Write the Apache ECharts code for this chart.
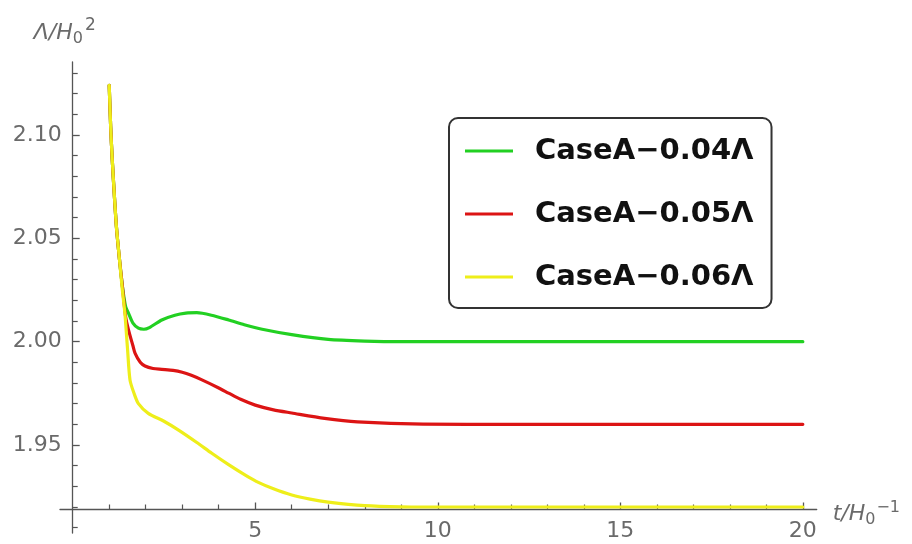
<!DOCTYPE html>
<html><head><meta charset="utf-8">
<script src="https://cdn.jsdelivr.net/npm/echarts@6/dist/echarts.min.js"></script>
<style>html,body{margin:0;padding:0;background:#fff}#c{width:912px;height:544px}</style>
</head><body><div id="c"></div>
<script>
// ---- data ----
const seriesNames = ['CaseA\u22120.04\u039B', 'CaseA\u22120.05\u039B', 'CaseA\u22120.06\u039B'];
const seriesColors = ['#22d022', '#dc1414', '#eeee1a'];

const tGreen = [1.00, 1.04, 1.08, 1.14, 1.20, 1.28, 1.36, 1.45, 1.53, 1.65, 1.80, 1.95, 2.10, 2.44, 2.80, 3.10, 3.40, 3.80, 4.27, 4.70, 5.19, 6.00, 7.00, 8.00, 9.00, 10, 12, 14, 16, 18, 20];
const vGreen = [2.124, 2.104, 2.089, 2.071, 2.055, 2.040, 2.027, 2.017, 2.0137, 2.009, 2.0065, 2.006, 2.0068, 2.0105, 2.0128, 2.0138, 2.0140, 2.0128, 2.0105, 2.0082, 2.0060, 2.0034, 2.0011, 2.0003, 2.0000, 2.0000, 2.0000, 2.0000, 2.0000, 2.0000, 2.0000];

const tRed = [1.00, 1.04, 1.08, 1.14, 1.20, 1.28, 1.36, 1.45, 1.53, 1.65, 1.71, 1.85, 1.98, 2.20, 2.44, 2.75, 3.00, 3.25, 3.54, 4.00, 4.27, 4.60, 5.00, 5.50, 6.00, 6.90, 7.80, 9.60, 12, 14, 16, 18, 20];
const vRed = [2.124, 2.104, 2.089, 2.071, 2.055, 2.040, 2.027, 2.012, 2.0056, 1.998, 1.9943, 1.990, 1.9882, 1.9870, 1.9866, 1.9861, 1.9852, 1.9837, 1.9815, 1.9776, 1.9751, 1.9721, 1.9693, 1.9670, 1.9655, 1.9629, 1.9612, 1.9601, 1.9600, 1.9600, 1.9600, 1.9600, 1.9600];

const tYellow = [1.00, 1.04, 1.08, 1.14, 1.20, 1.28, 1.36, 1.43, 1.50, 1.57, 1.68, 1.80, 2.07, 2.50, 2.90, 3.40, 3.81, 4.27, 4.75, 5.10, 5.50, 6.00, 6.50, 7.00, 8.00, 9.00, 10, 12, 14, 16, 18, 20];
const vYellow = [2.124, 2.104, 2.089, 2.071, 2.055, 2.040, 2.025, 2.0137, 1.997, 1.9814, 1.975, 1.970, 1.9653, 1.9615, 1.9572, 1.9512, 1.9460, 1.9405, 1.9352, 1.9318, 1.9288, 1.9258, 1.9238, 1.9224, 1.9207, 1.9201, 1.9200, 1.9200, 1.9200, 1.9200, 1.9200, 1.9200];

const xTickValues = [5, 10, 15, 20];
const yTickValues = [1.95, 2.00, 2.05, 2.10];
const yLowTickValues = [1.91];

// ---- chart ----
const zip = (ts, vs) => ts.map((t, i) => [t, vs[i]]);
const axisGray = '#555';
const labelGray = '#6a6a6a';
const font = 'DejaVu Sans';

const chart = echarts.init(document.getElementById('c'), null, {renderer: 'canvas'});
const mkSeries = (i, ts, vs) => ({
  name: seriesNames[i], type: 'line', xAxisIndex: 0, yAxisIndex: 0,
  data: zip(ts, vs), showSymbol: false, smooth: 0.25,
  color: seriesColors[i],
  lineStyle: {width: 3.2, color: seriesColors[i], cap: 'round', join: 'round'},
  itemStyle: {color: seriesColors[i]},
  emphasis: {disabled: true}, animation: false, z: 2 + i
});

chart.setOption({
  animation: false,
  backgroundColor: '#fff',
  grid: [
    {left: 72.7, right: 95.3, top: 62, bottom: 34.5},
    {left: 72.7, width: 10, top: 509.5, height: 23.5},
    {left: 60, width: 12.7, top: 400, height: 109.5}
  ],
  xAxis: [
    {
      type: 'value', gridIndex: 0, min: 0, max: 20.38, minInterval: 5, maxInterval: 5,
      axisLine: {show: true, onZero: false, lineStyle: {color: axisGray, width: 1.3}},
      axisTick: {show: true, inside: true, length: 7, customValues: xTickValues, lineStyle: {color: axisGray, width: 1.3}},
      minorTick: {show: true, splitNumber: 5, length: 5, lineStyle: {color: axisGray, width: 1.2}},
      axisLabel: {show: true, customValues: xTickValues, margin: 11, color: labelGray, fontFamily: font, fontSize: 22},
      splitLine: {show: false},
      name: '{i|t/H}{s|0}{p|\u22121}', nameLocation: 'end', nameGap: 16,
      nameTextStyle: {
        align: 'left', verticalAlign: 'middle', padding: [10, 0, 0, 0],
        rich: {
          i: {fontFamily: font, fontStyle: 'italic', fontSize: 22, color: labelGray},
          s: {fontFamily: font, fontSize: 16, color: labelGray, padding: [10, 0, 0, 0]},
          p: {fontFamily: font, fontSize: 16, color: labelGray, padding: [0, 0, 14, 1]}
        }
      }
    },
    {type: 'value', gridIndex: 1, min: 0, max: 1, show: false},
    {
      type: 'value', gridIndex: 2, min: 0, max: 1,
      axisLine: {show: true, onZero: false, lineStyle: {color: axisGray, width: 1.3}},
      axisTick: {show: false}, axisLabel: {show: false}, splitLine: {show: false}
    }
  ],
  yAxis: [
    {
      type: 'value', gridIndex: 0, min: 1.9188, max: 2.1353, minInterval: 0.05, maxInterval: 0.05,
      axisLine: {show: true, onZero: false, lineStyle: {color: axisGray, width: 1.3}},
      axisTick: {show: true, inside: true, length: 7, customValues: yTickValues, lineStyle: {color: axisGray, width: 1.3}},
      minorTick: {show: true, splitNumber: 5, length: 5, lineStyle: {color: axisGray, width: 1.2}},
      axisLabel: {show: true, customValues: yTickValues, margin: 11, color: labelGray, fontFamily: font, fontSize: 22,
        formatter: v => v.toFixed(2)},
      splitLine: {show: false},
      name: '{i|\u039B/H}{s|0}{p|2}', nameLocation: 'end', nameGap: 12,
      nameTextStyle: {
        align: 'center', verticalAlign: 'bottom', padding: [0, 16, 0, 0],
        rich: {
          i: {fontFamily: font, fontStyle: 'italic', fontSize: 22, color: labelGray},
          s: {fontFamily: font, fontSize: 16, color: labelGray, padding: [10, 0, 0, 0]},
          p: {fontFamily: font, fontSize: 17, color: labelGray, padding: [0, 0, 16, 2]}
        }
      }
    },
    {
      type: 'value', gridIndex: 1, min: 1.9072, max: 1.9188,
      axisLine: {show: true, onZero: false, lineStyle: {color: axisGray, width: 1.3}},
      axisTick: {show: true, inside: true, length: 5, customValues: yLowTickValues, lineStyle: {color: axisGray, width: 1.2}},
      axisLabel: {show: false}, splitLine: {show: false}
    },
    {type: 'value', gridIndex: 2, min: 0, max: 1, show: false}
  ],
  legend: {
    orient: 'vertical', left: 449, top: 118,
    padding: [18, 18, 16, 16], itemGap: 33, itemWidth: 48, itemHeight: 3, icon: 'rect',
    backgroundColor: '#fff', borderColor: '#333', borderWidth: 2, borderRadius: 9,
    textStyle: {fontFamily: font, fontWeight: 'bold', fontSize: 29, lineHeight: 30, color: '#111', padding: [0, 0, 0, 17]},
    data: seriesNames, selectedMode: false
  },
  series: [
    mkSeries(0, tGreen, vGreen),
    mkSeries(1, tRed, vRed),
    mkSeries(2, tYellow, vYellow)
  ]
});
</script></body></html>
